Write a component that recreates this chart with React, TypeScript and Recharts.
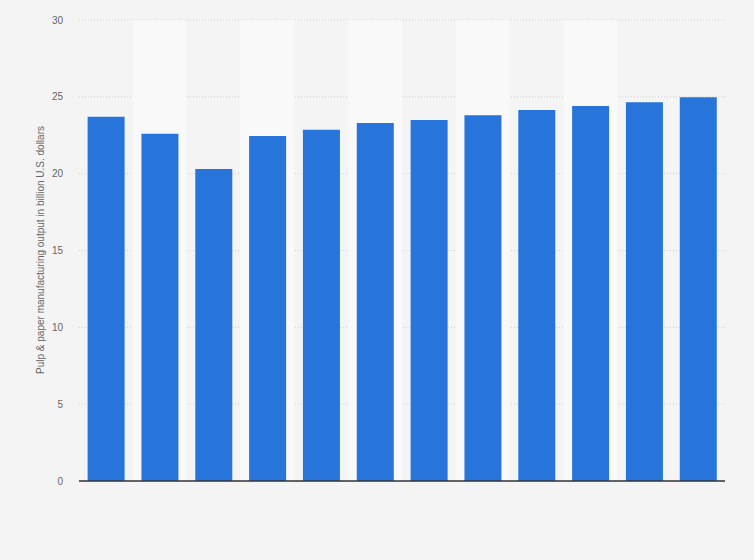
import {BarChart, Bar, XAxis, YAxis, CartesianGrid, ReferenceArea} from 'recharts';

// years are not printed on the reference, so the categories are just placeholders
const categories = ['1', '2', '3', '4', '5', '6', '7', '8', '9', '10', '11', '12'];
const output = [23.7, 22.6, 20.3, 22.45, 22.85, 23.3, 23.5, 23.8, 24.15, 24.4, 24.65, 24.98];
const yTicks = [0, 5, 10, 15, 20, 25, 30];

const data = categories.map((c, i) => ({cat: c, value: output[i]}));

const axisLabel = 'Pulp & paper manufacturing output in billion U.S. dollars';

export default function App() {
    return (
        <div style={{position: 'absolute', left: 0, top: 0, width: 754, height: 560, background: '#f4f4f4'}}>
            <BarChart
                width={754}
                height={560}
                data={data}
                margin={{top: 20, right: 29, bottom: 78, left: 0}}
                barCategoryGap="16%"
            >
                {categories.map((c, i) =>
                    i % 2 === 1 ? (
                        <ReferenceArea key={c} x1={c} x2={c} fill="#f9f9f9" fillOpacity={1} stroke="none"/>
                    ) : null
                )}
                <CartesianGrid vertical={false} stroke="#cfcfcf" strokeDasharray="1 2"/>
                <XAxis
                    dataKey="cat"
                    tick={false}
                    tickLine={false}
                    height={1}
                    axisLine={{stroke: '#333333', strokeWidth: 1.5}}
                />
                <YAxis
                    width={79}
                    domain={[0, 30]}
                    ticks={yTicks}
                    axisLine={false}
                    tickLine={false}
                    tickMargin={10}
                    tick={{fontSize: 10, fill: '#666666', fontFamily: 'Arial, "Liberation Sans", sans-serif'}}
                    label={{
                        content: () => (
                            <text
                                x={40}
                                y={250}
                                transform="rotate(-90 40 250)"
                                textAnchor="middle"
                                dominantBaseline="central"
                                fontSize={10}
                                fill="#666666"
                                fontFamily='Arial, "Liberation Sans", sans-serif'
                            >
                                {axisLabel}
                            </text>
                        ),
                    }}
                />
                <Bar dataKey="value" fill="#2775db" isAnimationActive={false}/>
            </BarChart>
        </div>
    );
}
